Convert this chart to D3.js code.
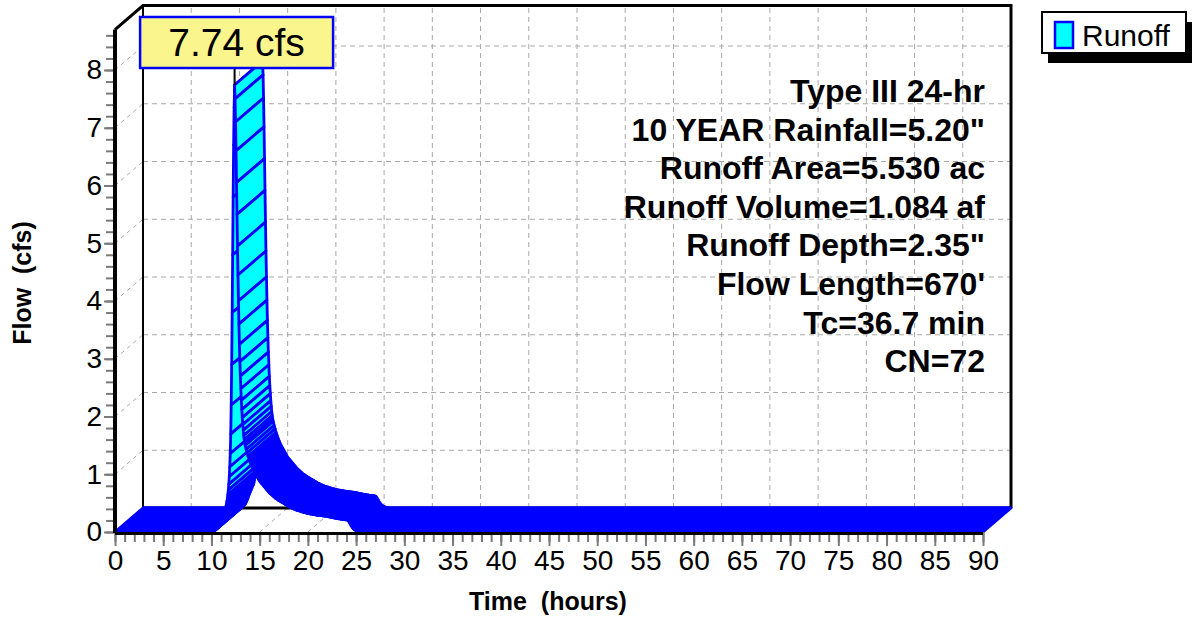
<!DOCTYPE html>
<html><head><meta charset="utf-8">
<script src="https://cdn.jsdelivr.net/npm/d3@7"></script>
<style>
body{margin:0;background:#fff}
svg{display:block;font-family:"Liberation Sans",Arial,sans-serif}
</style>
</head><body>
<svg id="chart" width="1194" height="618"></svg>
<script>
// ---------------- data ----------------
const seriesName = "Runoff";
const peakLabel = "7.74 cfs";
const peakTime = 12.40;
const peakFlow = 7.74;
const xTickValues = [0,5,10,15,20,25,30,35,40,45,50,55,60,65,70,75,80,85,90];
const yTickValues = [0,1,2,3,4,5,6,7,8];
const xTitle = "Time  (hours)";
const yTitle = "Flow  (cfs)";
const infoLines = [
  "Type III 24-hr",
  "10 YEAR Rainfall=5.20\"",
  "Runoff Area=5.530 ac",
  "Runoff Volume=1.084 af",
  "Runoff Depth=2.35\"",
  "Flow Length=670'",
  "Tc=36.7 min",
  "CN=72"
];
// hydrograph (cfs)
const sampleStep = 0.1;                 // hours
const zeroFlowBefore = [0, 10.0];       // hours with 0 cfs
const zeroFlowAfter = [25.9, 90];       // hours with 0 cfs
const earlyStart = 10.1;                // step 0.1 h
const earlyFlow = [0.005,0.01,0.02,0.03,0.05,0.07,0.10,0.14,0.18,0.23,0.27,0.31,0.35,0.39];
const nearPeakStart = 11.45;            // step 0.05 h
const nearPeakStep = 0.05;
const nearPeakFlow = [
  0.41,0.44,0.48,0.53,0.58,0.65,0.73,0.83,0.96,1.13,
  1.36,1.70,2.20,2.90,3.80,4.80,5.80,6.70,7.35,7.74,
  7.50,7.10,6.60,6.05,5.50,4.95,4.45,4.00,3.60,3.25,
  2.95,2.70,2.48,2.28,2.12,1.98,1.86,1.76,1.67,1.60,
  1.54,1.50];
const lateStart = 13.6;                 // step 0.1 h
const lateFlow = [
  1.43,1.37,1.31,1.26,1.21,1.17,1.13,1.09,1.06,1.03,
  1.00,0.97,0.94,0.91,0.88,0.86,0.84,0.82,0.80,0.78,
  0.76,0.74,0.72,0.70,0.68,0.665,0.65,0.635,0.62,0.605,
  0.59,0.58,0.57,0.555,0.545,0.535,0.525,0.515,0.505,0.495,
  0.485,0.475,0.465,0.455,0.445,0.435,0.425,0.42,0.41,0.40,
  0.395,0.39,0.38,0.375,0.37,0.365,0.36,0.355,0.35,0.345,
  0.34,0.335,0.33,0.325,0.32,0.317,0.314,0.311,0.308,0.305,
  0.302,0.299,0.296,0.293,0.29,0.288,0.286,0.284,0.282,0.28,
  0.278,0.276,0.274,0.272,0.27,0.266,0.262,0.258,0.254,0.25,
  0.247,0.244,0.241,0.238,0.235,0.232,0.229,0.226,0.223,0.22,
  0.218,0.216,0.214,0.212,0.21,0.205,0.19,0.165,0.135,0.105,
  0.08,0.06,0.045,0.033,0.024,0.017,0.012,0.008,0.005,0.003,
  0.002,0.001,0];

// ---------------- build series ----------------
const pts = [];
d3.range(zeroFlowBefore[0], zeroFlowBefore[1] + 1e-9, sampleStep).forEach(t => pts.push({t, q: 0}));
earlyFlow.forEach((q, i) => pts.push({t: earlyStart + i * sampleStep, q}));
nearPeakFlow.forEach((q, i) => pts.push({t: nearPeakStart + i * nearPeakStep, q}));
lateFlow.forEach((q, i) => pts.push({t: lateStart + i * sampleStep, q}));
d3.range(zeroFlowAfter[0], zeroFlowAfter[1] + 1e-9, sampleStep).forEach(t => pts.push({t, q: 0}));

// ---------------- layout ----------------
const svg = d3.select("#chart");
const x0 = 115, x1 = 983, yBase = 532, unit = 57.75, yTop = 8.7;
const DX = 28, DY = -24;   // depth offset of the 3D back plane
const x = d3.scaleLinear().domain([0, 90]).range([x0, x1]);
const y = d3.scaleLinear().domain([0, yTop]).range([yBase, yBase - yTop * unit]);

const gridColor = "#a8a8a8";
const dash = "5,4";

// back wall grid
const g = svg.append("g");
xTickValues.filter(v => v > 0 && v < 90).forEach(v => {
  g.append("line").attr("x1", x(v) + DX).attr("x2", x(v) + DX)
    .attr("y1", y(0) + DY).attr("y2", y(yTop) + DY)
    .attr("stroke", gridColor).attr("stroke-dasharray", dash).attr("stroke-width", 1);
});
yTickValues.filter(v => v > 0).forEach(v => {
  g.append("line").attr("x1", x(0) + DX).attr("x2", x(90) + DX)
    .attr("y1", y(v) + DY).attr("y2", y(v) + DY)
    .attr("stroke", gridColor).attr("stroke-dasharray", dash).attr("stroke-width", 1);
  // left wall
  g.append("line").attr("x1", x(0)).attr("x2", x(0) + DX)
    .attr("y1", y(v)).attr("y2", y(v) + DY)
    .attr("stroke", gridColor).attr("stroke-dasharray", "4,4").attr("stroke-width", 1);
});
// floor grid
xTickValues.filter(v => v > 0 && v < 90).forEach(v => {
  g.append("line").attr("x1", x(v)).attr("x2", x(v) + DX)
    .attr("y1", y(0)).attr("y2", y(0) + DY)
    .attr("stroke", gridColor).attr("stroke-dasharray", "4,4").attr("stroke-width", 1);
});

// frame of back wall
const frame = svg.append("g").attr("stroke", "#000").attr("fill", "none");
frame.append("path").attr("stroke-width", 3)
  .attr("d", `M${x(0)},${y(yTop)} L${x(0) + DX},${y(yTop) + DY} L${x(90) + DX},${y(yTop) + DY} L${x(90) + DX},${y(0) + DY}`);
frame.append("line").attr("stroke-width", 2)
  .attr("x1", x(0) + DX).attr("x2", x(0) + DX).attr("y1", y(yTop) + DY).attr("y2", y(0) + DY);
frame.append("line").attr("stroke-width", 3)
  .attr("x1", x(0) + DX).attr("x2", x(90) + DX).attr("y1", y(0) + DY).attr("y2", y(0) + DY);

// ---------------- ribbon ----------------
const rib = svg.append("g");
for (let i = 0; i < pts.length - 1; i++) {
  const a = pts[i], b = pts[i + 1];
  const poly = [
    [x(a.t), y(a.q)], [x(b.t), y(b.q)],
    [x(b.t) + DX, y(b.q) + DY], [x(a.t) + DX, y(a.q) + DY]
  ];
  rib.append("path").attr("d", "M" + poly.map(p => p.join(",")).join("L") + "Z")
    .attr("fill", "#00ffff").attr("stroke", "#0000ff").attr("stroke-width", 2.8)
    .attr("stroke-linejoin", "round");
}

// ---------------- axes ----------------
const tickColor = "#7a7a7a";
const yMinor = d3.range(0, yTop + 1e-9, 0.2);
svg.append("g").attr("transform", `translate(${x0},0)`)
  .call(d3.axisLeft(y).tickValues(yMinor).tickSize(9).tickSizeOuter(0).tickFormat(""))
  .call(s => s.select(".domain").remove())
  .call(s => s.selectAll("line").attr("stroke", tickColor).attr("stroke-width", 2));
const yAx = svg.append("g").attr("transform", `translate(${x0},0)`)
  .call(d3.axisLeft(y).tickValues(yTickValues).tickSize(11).tickPadding(2).tickSizeOuter(0));
yAx.select(".domain").remove();
yAx.selectAll("line").attr("stroke", tickColor).attr("stroke-width", 2);
yAx.selectAll("text").attr("font-size", 28).attr("fill", "#000")
  .attr("font-family", "'Liberation Sans',Arial,sans-serif");
const xMinor = d3.range(0, 90.001, 1);
svg.append("g").attr("transform", `translate(0,${yBase})`)
  .call(d3.axisBottom(x).tickValues(xMinor).tickSize(10).tickSizeOuter(0).tickFormat(""))
  .call(s => s.select(".domain").remove())
  .call(s => s.selectAll("line").attr("stroke", tickColor).attr("stroke-width", 2));
const xAx = svg.append("g").attr("transform", `translate(0,${yBase})`)
  .call(d3.axisBottom(x).tickValues(xTickValues).tickSize(14).tickPadding(4).tickSizeOuter(0));
xAx.select(".domain").remove();
xAx.selectAll("line").attr("stroke", tickColor).attr("stroke-width", 2);
xAx.selectAll("text").attr("font-size", 28).attr("fill", "#000")
  .attr("font-family", "'Liberation Sans',Arial,sans-serif");

// thick front axis lines
svg.append("line").attr("x1", x0).attr("x2", x0).attr("y1", y(0) + 1).attr("y2", y(yTop))
  .attr("stroke", "#000").attr("stroke-width", 4);
svg.append("line").attr("x1", x0).attr("x2", x1).attr("y1", y(0) + 1.5).attr("y2", y(0) + 1.5)
  .attr("stroke", "#000").attr("stroke-width", 3);

// axis titles
svg.append("text").attr("x", 548).attr("y", 610).attr("text-anchor", "middle")
  .attr("font-size", 25).attr("font-weight", "bold").style("white-space", "pre").text(xTitle);
svg.append("text").attr("transform", "translate(31,283) rotate(-90)").attr("text-anchor", "middle")
  .attr("font-size", 25).attr("font-weight", "bold").style("white-space", "pre").text(yTitle);

// info text block
const info = svg.append("g");
infoLines.forEach((s, i) => {
  info.append("text").attr("x", 985).attr("y", 102 + i * 38.6).attr("text-anchor", "end")
    .attr("font-size", 32).attr("font-weight", "bold").attr("fill", "#000").text(s);
});

// peak label
const px = x(peakTime);
svg.append("line").attr("x1", px).attr("x2", px).attr("y1", 68).attr("y2", y(peakFlow))
  .attr("stroke", "#000").attr("stroke-width", 2);
svg.append("rect").attr("x", px + 2 - 96.5).attr("y", 17).attr("width", 193).attr("height", 51)
  .attr("fill", "#fbf58d").attr("stroke", "#0000ff").attr("stroke-width", 2.5);
svg.append("text").attr("x", px + 2).attr("y", 56).attr("text-anchor", "middle")
  .attr("font-size", 39).attr("fill", "#000").text(peakLabel);

// legend
const lg = svg.append("g");
lg.append("rect").attr("x", 1048).attr("y", 22).attr("width", 144).attr("height", 41).attr("fill", "#000");
lg.append("rect").attr("x", 1042).attr("y", 12).attr("width", 144).attr("height", 41)
  .attr("fill", "#fff").attr("stroke", "#000").attr("stroke-width", 2);
lg.append("rect").attr("x", 1055).attr("y", 22).attr("width", 18).attr("height", 26)
  .attr("fill", "#00ffff").attr("stroke", "#0000ff").attr("stroke-width", 2.5);
lg.append("text").attr("x", 1082).attr("y", 46).attr("font-size", 30).attr("fill", "#000").text(seriesName);
</script>
</body></html>
